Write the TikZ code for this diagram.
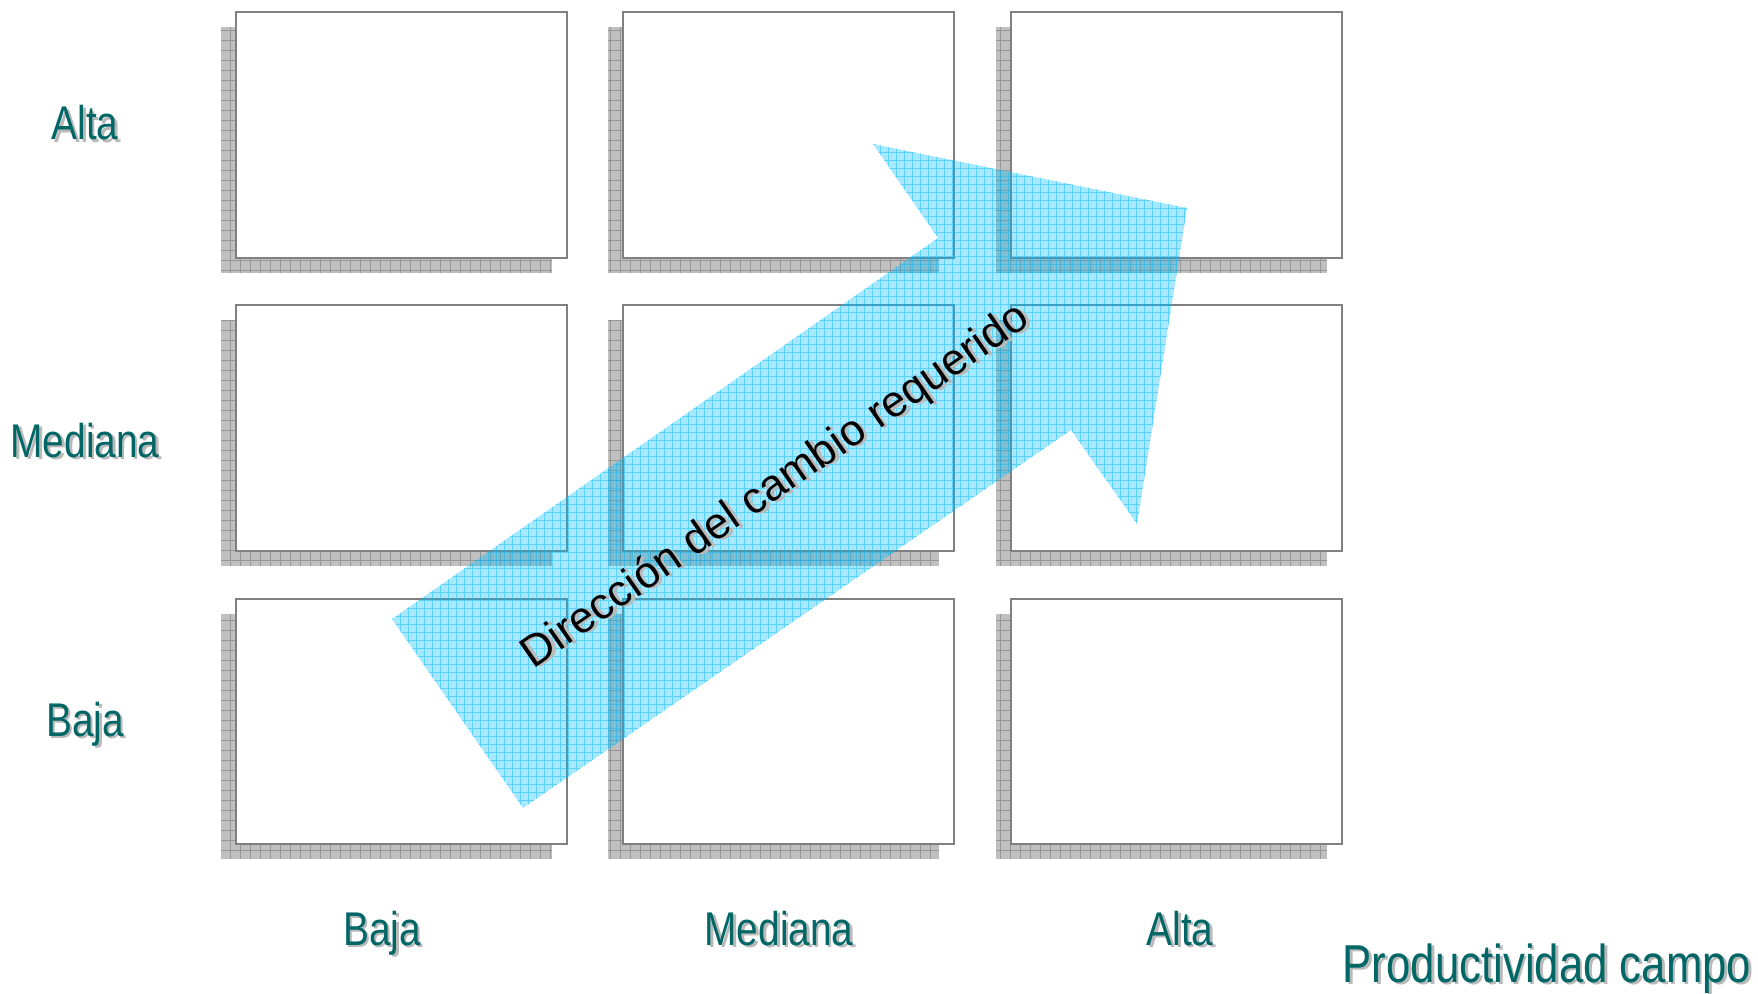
\documentclass[tikz,border=0pt]{standalone}
\usepackage{fontspec}
\setmainfont{Liberation Sans}
\newfontfamily\narrowfont[FakeStretch=0.82]{Liberation Sans}
\newcommand\shadowed[1]{\makebox[0pt][l]{\hspace{2pt}\raisebox{-2pt}{\color{gray!55}#1}}#1}

\tikzset{every picture/.style={line width=0.75pt}}
\tikzset{
  shadowfill/.style={fill={rgb, 255:red, 192; green, 192; blue, 192 }},
  shadowgrid/.style={draw={rgb, 255:red, 150; green, 150; blue, 150 }, line width=0.6, step=7.5pt},
  cellbox/.style={draw={rgb, 255:red, 128; green, 128; blue, 128 }, fill=white, line width=1.5},
  axislabel/.style={inner sep=0.75pt, color={rgb, 255:red, 0; green, 102; blue, 102 }, font=\narrowfont\fontsize{35.5}{42}\selectfont}
}

\begin{document}
\begin{tikzpicture}[x=0.75pt,y=0.75pt,yscale=-1,xscale=1]
\useasboundingbox (0,0) rectangle (1758,994);

%Shadows
\fill[shadowfill] (221,27) rectangle (552,273);
\draw[shadowgrid] (221,27) grid (552,273);
\fill[shadowfill] (608,27) rectangle (939,273);
\draw[shadowgrid] (608,27) grid (939,273);
\fill[shadowfill] (996,27) rectangle (1327,273);
\draw[shadowgrid] (996,27) grid (1327,273);
\fill[shadowfill] (221,320) rectangle (552,566);
\draw[shadowgrid] (221,320) grid (552,566);
\fill[shadowfill] (608,320) rectangle (939,566);
\draw[shadowgrid] (608,320) grid (939,566);
\fill[shadowfill] (996,320) rectangle (1327,566);
\draw[shadowgrid] (996,320) grid (1327,566);
\fill[shadowfill] (221,614) rectangle (552,859);
\draw[shadowgrid] (221,614) grid (552,859);
\fill[shadowfill] (608,614) rectangle (939,859);
\draw[shadowgrid] (608,614) grid (939,859);
\fill[shadowfill] (996,614) rectangle (1327,859);
\draw[shadowgrid] (996,614) grid (1327,859);

%Shape: Rectangle (row Alta)
\draw[cellbox] (236,12) rectangle (567,258);
\draw[cellbox] (623,12) rectangle (954,258);
\draw[cellbox] (1011,12) rectangle (1342,258);
%Shape: Rectangle (row Mediana)
\draw[cellbox] (236,305) rectangle (567,551);
\draw[cellbox] (623,305) rectangle (954,551);
\draw[cellbox] (1011,305) rectangle (1342,551);
%Shape: Rectangle (row Baja)
\draw[cellbox] (236,599) rectangle (567,844);
\draw[cellbox] (623,599) rectangle (954,844);
\draw[cellbox] (1011,599) rectangle (1342,844);

%Shape: Right Arrow
\fill[fill={rgb, 255:red, 0; green, 191; blue, 255 }, fill opacity=0.35] (392,619) -- (938,238) -- (873,144) -- (1187,208) -- (1137,524) -- (1071,430) -- (523,808) -- cycle;
\begin{scope}
\clip (392,619) -- (938,238) -- (873,144) -- (1187,208) -- (1137,524) -- (1071,430) -- (523,808) -- cycle;
\draw[draw={rgb, 255:red, 0; green, 185; blue, 245 }, draw opacity=0.45, line width=0.6, step=6pt] (380,130) grid (1200,820);
\end{scope}

% Text Node
\node[inner sep=0.75pt, rotate=34.7, font=\fontsize{33}{39}\selectfont] (cambio) at (777,488) {\shadowed{Dirección del cambio requerido}};

% Text Node
\node[axislabel, anchor=base] (altaY) at (85,140) {\shadowed{Alta}};
% Text Node
\node[axislabel, anchor=base] (medianaY) at (85,457) {\shadowed{Mediana}};
% Text Node
\node[axislabel, anchor=base] (bajaY) at (85,736) {\shadowed{Baja}};
% Text Node
\node[axislabel, anchor=base] (bajaX) at (382,945) {\shadowed{Baja}};
% Text Node
\node[axislabel, anchor=base] (medianaX) at (779,945) {\shadowed{Mediana}};
% Text Node
\node[axislabel, anchor=base] (altaX) at (1180,945) {\shadowed{Alta}};
% Text Node
\node[axislabel, anchor=base, font=\narrowfont\fontsize{40}{46}\selectfont] (campo) at (1547,982) {\shadowed{Productividad campo}};

\end{tikzpicture}
\end{document}
